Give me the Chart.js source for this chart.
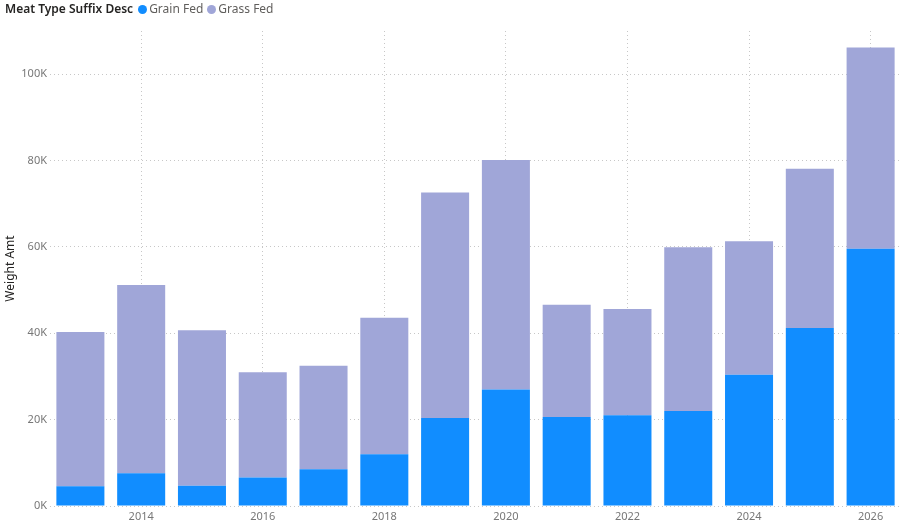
<!DOCTYPE html>
<html lang="en">
<head>
    <meta charset="UTF-8">
    <title>Weight Amt by Year</title>
    <script src="https://cdn.jsdelivr.net/npm/chart.js"></script>
    <style>
        body {
            margin: 0;
            padding: 0;
            background: #fff;
            font-family: "Noto Sans", "Open Sans", sans-serif;
        }
        #wrap {
            position: relative;
            width: 903px;
            height: 525px;
        }
        #legend {
            position: absolute;
            left: 5px;
            top: 0px;
            font-size: 12px;
            line-height: 18px;
            color: #605E5C;
            white-space: nowrap;
        }
        #legend b {
            color: #252423;
            font-weight: 600;
            margin-right: 5px;
        }
        #legend .dot {
            display: inline-block;
            width: 9px;
            height: 9px;
            border-radius: 50%;
            margin-right: 2px;
            vertical-align: -1px;
        }
        #legend .item {
            margin-right: 4px;
        }
        canvas {
            display: block;
        }
    </style>
</head>
<body>
<div id="wrap">
    <div id="legend"></div>
    <canvas id="myChart" width="903" height="525"></canvas>
</div>

<script>
    // datos
    const years = ['2013', '2014', '2015', '2016', '2017', '2018', '2019',
                   '2020', '2021', '2022', '2023', '2024', '2025', '2026'];
    const grainFed = [4600, 7600, 4700, 6600, 8500, 12000, 20400,
                      27000, 20600, 21000, 22000, 30400, 41200, 59600];
    const grassFed = [35700, 43600, 36000, 24400, 24000, 31600, 52200,
                      53100, 26000, 24600, 37900, 30900, 36900, 46600];
    const yTicks = [0, 20000, 40000, 60000, 80000, 100000];

    const legendTitle = 'Meat Type Suffix Desc';
    const seriesNames = ['Grain Fed', 'Grass Fed'];
    const seriesColors = ['#118DFF', '#A0A6D8'];

    // leyenda en HTML
    let lg = '<b>' + legendTitle + '</b>';
    seriesNames.forEach((n, i) => {
        lg += '<span class="item"><span class="dot" style="background:' + seriesColors[i] + '"></span>' + n + '</span>';
    });
    document.getElementById('legend').innerHTML = lg;

    const gridColor = 'rgba(0,0,0,0.22)';

    const ctx = document.getElementById('myChart').getContext('2d');
    const myChart = new Chart(ctx, {
        type: 'bar',
        data: {
            labels: years,
            datasets: [{
                label: seriesNames[0],
                data: grainFed,
                backgroundColor: seriesColors[0]
            }, {
                label: seriesNames[1],
                data: grassFed,
                backgroundColor: seriesColors[1]
            }]
        },
        options: {
            responsive: false,
            animation: false,
            layout: {
                padding: { top: 31, right: 2, bottom: 0, left: 0 }
            },
            datasets: {
                bar: {
                    categoryPercentage: 0.79,
                    barPercentage: 1.0
                }
            },
            plugins: {
                legend: { display: false },
                tooltip: { enabled: false }
            },
            scales: {
                x: {
                    stacked: true,
                    z: 1,
                    border: { display: false, dash: [1, 3] },
                    afterFit: s => {
                        s.height = 19;
                    },
                    grid: {
                        offset: false,
                        drawTicks: false,
                        color: c => (c.index % 2 === 1 ? gridColor : 'rgba(0,0,0,0)'),
                        lineWidth: 1
                    },
                    ticks: {
                        autoSkip: false,
                        maxRotation: 0,
                        padding: 4,
                        color: '#777',
                        font: { family: '"Noto Sans", sans-serif', size: 11 },
                        callback: function (v, i) {
                            return i % 2 === 1 ? years[i] : '';
                        }
                    }
                },
                y: {
                    stacked: true,
                    z: 1,
                    min: 0,
                    max: 110000,
                    border: { display: false, dash: [1, 3] },
                    afterBuildTicks: s => {
                        s.ticks = yTicks.map(v => ({ value: v }));
                    },
                    afterFit: s => {
                        s.width = 50;
                    },
                    grid: {
                        drawTicks: false,
                        color: gridColor,
                        lineWidth: 1
                    },
                    ticks: {
                        padding: 3,
                        color: '#777',
                        font: { family: '"Noto Sans", sans-serif', size: 11 },
                        callback: v => (v / 1000) + 'K'
                    },
                    title: {
                        display: true,
                        text: 'Weight Amt',
                        color: '#252423',
                        padding: { top: 3, bottom: 0 },
                        font: { family: '"Noto Sans", sans-serif', size: 12 }
                    }
                }
            }
        }
    });
</script>
</body>
</html>
